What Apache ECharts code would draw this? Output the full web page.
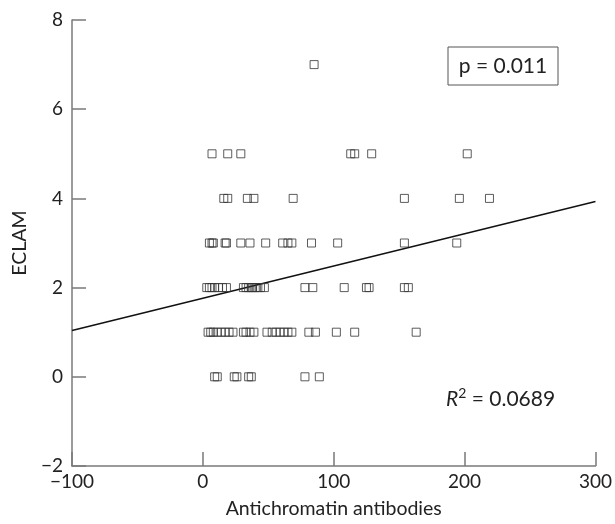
<!DOCTYPE html>
<html>
<head>
<meta charset="utf-8">
<script src="https://cdn.jsdelivr.net/npm/echarts@6/dist/echarts.min.js"></script>
<style>
    html, body {margin: 0; padding: 0; background: #fff;}
    #chart {width: 615px; height: 524px;}
</style>
</head>
<body>
<div id="chart"></div>
<script>
// antichromatin antibody values, grouped by ECLAM score
const eclam0 = [9, 11, 24, 26, 35, 37, 78, 89]
const eclam1 = [4, 6, 8, 11, 14, 17, 20, 23, 31, 33, 36, 39, 49, 53, 56, 59, 62, 65, 68, 81, 86, 102, 116, 163]
const eclam2 = [3, 5, 7, 9, 12, 15, 18, 31, 33, 35, 37, 38, 40, 42, 44, 47, 78, 84, 108, 125, 127, 154, 157]
const eclam3 = [5, 7, 8, 17, 18, 29, 36, 48, 61, 65, 68, 83, 103, 154, 194]
const eclam4 = [16, 19, 34, 39, 69, 154, 196, 219]
const eclam5 = [7, 19, 29, 113, 116, 129, 202]
const eclam7 = [85]

// fitted line end points
const fitX = [-100, 300]
const fitY = [1.04, 3.93]

const xTicks = [-100, 0, 100, 200, 300]
const yTicks = [-2, 0, 2, 4, 6, 8]

const groups = [[0, eclam0], [1, eclam1], [2, eclam2], [3, eclam3], [4, eclam4], [5, eclam5], [7, eclam7]]
const points = []
groups.forEach(([score, list]) => {
    list.forEach((v) => points.push([v, score]))
})

const font = 'Lato, "DejaVu Sans", sans-serif'
const axisGrey = '#7a7a7a'
const minus = (v) => (v < 0 ? '\u2212' + Math.abs(v) : String(v))

const chart = echarts.init(document.getElementById('chart'))
chart.setOption({
    animation: false,
    backgroundColor: '#fff',
    grid: {
        left: 72,
        right: 17,
        top: 20,
        bottom: 51,
    },
    xAxis: {
        type: 'value',
        min: xTicks[0],
        max: xTicks[xTicks.length - 1],
        interval: 100,
        name: 'Antichromatin antibodies',
        nameLocation: 'middle',
        nameGap: 33,
        nameTextStyle: {color: '#222', fontSize: 19.5, fontFamily: font},
        axisLine: {onZero: false, lineStyle: {color: axisGrey, width: 1.5}},
        axisTick: {inside: true, length: 14, lineStyle: {color: axisGrey, width: 1.5}},
        axisLabel: {color: '#222', fontSize: 19, fontFamily: font, margin: 6, formatter: minus},
        splitLine: {show: false},
    },
    yAxis: {
        type: 'value',
        min: yTicks[0],
        max: yTicks[yTicks.length - 1],
        interval: 2,
        name: 'ECLAM',
        nameLocation: 'middle',
        nameGap: 40,
        nameTextStyle: {color: '#222', fontSize: 19.5, fontFamily: font},
        axisLine: {onZero: false, lineStyle: {color: axisGrey, width: 1.5}},
        axisTick: {inside: true, length: 14, lineStyle: {color: axisGrey, width: 1.5}},
        axisLabel: {color: '#222', fontSize: 19, fontFamily: font, margin: 9, formatter: minus},
        splitLine: {show: false},
    },
    series: [
        {
            type: 'scatter',
            data: points,
            symbol: 'rect',
            symbolSize: 8,
            itemStyle: {
                color: 'rgba(0,0,0,0)',
                borderColor: '#333',
                borderWidth: 1,
            },
            z: 3,
        },
        {
            type: 'line',
            data: fitX.map((x, i) => [x, fitY[i]]),
            showSymbol: false,
            lineStyle: {color: '#111', width: 1.5},
            z: 2,
        },
    ],
    graphic: [
        {
            type: 'rect',
            shape: {x: 448, y: 47, width: 110, height: 38},
            style: {fill: '#fff', stroke: '#555', lineWidth: 1},
        },
        {
            type: 'text',
            x: 503,
            y: 66,
            style: {
                text: 'p = 0.011',
                fill: '#222',
                fontSize: 21,
                fontFamily: font,
                align: 'center',
                verticalAlign: 'middle',
            },
        },
        {
            type: 'text',
            x: 446,
            y: 399,
            style: {
                text: '{r|R}{s|2}{t| = 0.0689}',
                fill: '#222',
                fontFamily: font,
                align: 'left',
                verticalAlign: 'middle',
                rich: {
                    r: {fontSize: 21, fontStyle: 'italic', fontFamily: font, fill: '#222'},
                    s: {fontSize: 14, fontFamily: font, verticalAlign: 'top', padding: [0, 0, 12, 0], fill: '#222'},
                    t: {fontSize: 21, fontFamily: font, fill: '#222'},
                },
            },
        },
    ],
})
</script>
</body>
</html>
